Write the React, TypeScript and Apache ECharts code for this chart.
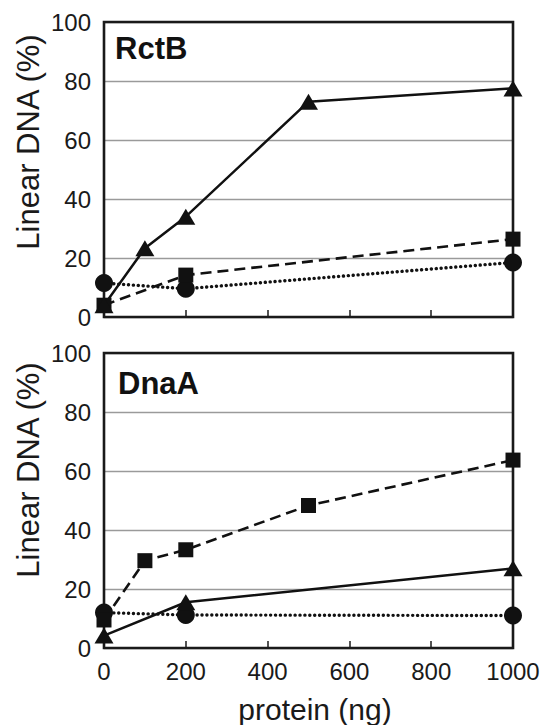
import React, { useEffect, useRef } from "react";
import * as echarts from "echarts";

// x-axis (protein, ng)
const xTickValues = [0, 200, 400, 600, 800, 1000];
const yTickValues = [0, 20, 40, 60, 80, 100];

// RctB panel
const rctbTriangleX = [0, 100, 200, 500, 1000];
const rctbTriangleY = [4, 23.3, 34, 73, 77.5];
const rctbSquareX = [0, 200, 1000];
const rctbSquareY = [4, 14.2, 26.4];
const rctbCircleX = [0, 200, 1000];
const rctbCircleY = [11.5, 9.6, 18.5];

// DnaA panel
const dnaaSquareX = [0, 100, 200, 500, 1000];
const dnaaSquareY = [9.5, 29.6, 33.3, 48.3, 63.7];
const dnaaTriangleX = [0, 200, 1000];
const dnaaTriangleY = [4.2, 15.5, 27];
const dnaaCircleX = [0, 200, 1000];
const dnaaCircleY = [12, 11.2, 11];

const panelTitles = ["RctB", "DnaA"];
const yAxisTitle = "Linear DNA (%)";
const xAxisTitle = "protein (ng)";

const FONT = '"Liberation Sans", Arial, Helvetica, sans-serif';
const INK = "#111";

const zip = (xs: number[], ys: number[]) => xs.map((x, i) => [x, ys[i]]);

type Kind = "triangle" | "square" | "circle";
const styleFor = (kind: Kind) => {
  if (kind === "triangle")
    return { symbol: "triangle", symbolSize: [19, 16], lineStyle: { color: INK, width: 2.5, type: "solid" } };
  if (kind === "square")
    return { symbol: "rect", symbolSize: 15, lineStyle: { color: INK, width: 2.6, type: [11, 6] } };
  return { symbol: "circle", symbolSize: 18, lineStyle: { color: INK, width: 3.4, type: [0.1, 4.8], cap: "round" } };
};

const makeSeries = (name: string, kind: Kind, xs: number[], ys: number[], idx: number) => {
  const s = styleFor(kind);
  return {
    name,
    type: "line",
    xAxisIndex: idx,
    yAxisIndex: idx,
    data: zip(xs, ys),
    symbol: s.symbol,
    symbolSize: s.symbolSize,
    showSymbol: true,
    itemStyle: { color: INK, borderWidth: 0 },
    lineStyle: s.lineStyle,
    z: 3,
    silent: true,
  };
};

const makeGrid = (top: number) => ({
  left: 104,
  top,
  width: 409,
  height: 295,
  show: true,
  borderColor: "#1a1a1a",
  borderWidth: 2.6,
  backgroundColor: "transparent",
  z: 1,
});

const makeXAxis = (gridIndex: number, showLabels: boolean) => ({
  type: "value",
  gridIndex,
  min: xTickValues[0],
  max: xTickValues[xTickValues.length - 1],
  interval: xTickValues[1] - xTickValues[0],
  axisLine: { show: false },
  axisTick: { show: true, inside: true, length: 7, lineStyle: { color: "#1a1a1a", width: 1.5 } },
  splitLine: { show: false },
  axisLabel: {
    show: showLabels,
    fontFamily: FONT,
    fontSize: 24,
    color: "#1a1a1a",
    margin: 11,
    formatter: (v: number) => String(v),
  },
});

const makeYAxis = (gridIndex: number) => ({
  type: "value",
  gridIndex,
  min: yTickValues[0],
  max: yTickValues[yTickValues.length - 1],
  interval: yTickValues[1] - yTickValues[0],
  axisLine: { show: false },
  axisTick: { show: false },
  splitLine: { show: true, lineStyle: { color: "#9a9a9a", width: 1.3 } },
  axisLabel: {
    fontFamily: FONT,
    fontSize: 24,
    color: "#1a1a1a",
    margin: 13,
    formatter: (v: number) => String(v),
  },
});

export default function App() {
  const ref = useRef<HTMLDivElement>(null);
  useEffect(() => {
    const chart = echarts.init(ref.current!, null, { renderer: "svg" });
    chart.setOption({
      animation: false,
      backgroundColor: "#fff",
      grid: [makeGrid(22), makeGrid(353)],
      xAxis: [makeXAxis(0, false), makeXAxis(1, true)],
      yAxis: [makeYAxis(0), makeYAxis(1)],
      series: [
        makeSeries("RctB circle", "circle", rctbCircleX, rctbCircleY, 0),
        makeSeries("RctB square", "square", rctbSquareX, rctbSquareY, 0),
        makeSeries("RctB triangle", "triangle", rctbTriangleX, rctbTriangleY, 0),
        makeSeries("DnaA circle", "circle", dnaaCircleX, dnaaCircleY, 1),
        makeSeries("DnaA square", "square", dnaaSquareX, dnaaSquareY, 1),
        makeSeries("DnaA triangle", "triangle", dnaaTriangleX, dnaaTriangleY, 1),
      ],
      graphic: [
        {
          type: "text",
          x: 115,
          y: 48,
          style: { text: panelTitles[0], font: `bold 31px ${FONT}`, fill: "#111", textAlign: "left", textVerticalAlign: "middle" },
        },
        {
          type: "text",
          x: 118,
          y: 383,
          style: { text: panelTitles[1], font: `bold 31px ${FONT}`, fill: "#111", textAlign: "left", textVerticalAlign: "middle" },
        },
        {
          type: "text",
          x: 28,
          y: 142,
          rotation: Math.PI / 2,
          style: { text: yAxisTitle, font: `31px ${FONT}`, fill: "#1a1a1a", textAlign: "center", textVerticalAlign: "middle" },
        },
        {
          type: "text",
          x: 28,
          y: 470,
          rotation: Math.PI / 2,
          style: { text: yAxisTitle, font: `31px ${FONT}`, fill: "#1a1a1a", textAlign: "center", textVerticalAlign: "middle" },
        },
        {
          type: "text",
          x: 315,
          y: 709,
          style: { text: xAxisTitle, font: `30px ${FONT}`, fill: "#1a1a1a", textAlign: "center", textVerticalAlign: "middle" },
        },
      ],
    });
    return () => chart.dispose();
  }, []);
  return (
    <div
      ref={ref}
      style={{ position: "fixed", left: 0, top: 0, width: 548, height: 725, background: "#fff" }}
    />
  );
}
